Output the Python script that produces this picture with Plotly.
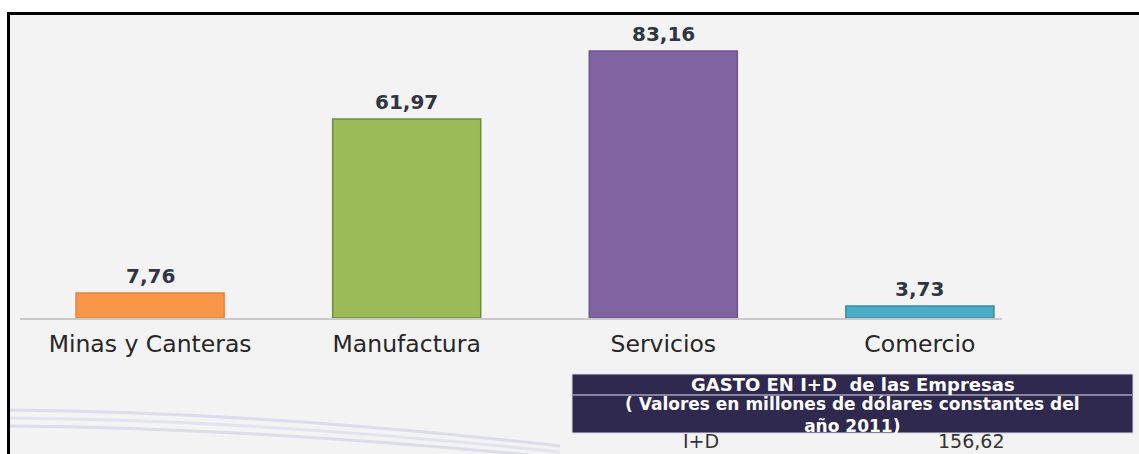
import plotly.graph_objects as go

# ---- data ----
categories = ["Minas y Canteras", "Manufactura", "Servicios", "Comercio"]
values = [7.76, 61.97, 83.16, 3.73]
bar_colors = ["#f79646", "#9bbb59", "#8064a2", "#4bacc6"]
edge_colors = ["#e5813a", "#71893f", "#6c5490", "#3a8aa0"]

table_title = "GASTO EN I+D  de las Empresas"
table_subtitle = ["( Valores en millones de dólares constantes del", "año 2011)"]
table_rows = ["I+D"]
table_values = [156.62]


def fmt(v):
    return f"{v:.2f}".replace(".", ",")


# ---- layout geometry (pixels) ----
W, H = 1139, 454
L, R, T, B = 20, 1002, 15, 318


def xp(x):
    return (x - L) / (R - L)


def yp(y):
    return (B - y) / (B - T)


fig = go.Figure()
fig.add_trace(go.Bar(
    x=categories,
    y=values,
    marker=dict(color=bar_colors, line=dict(color=edge_colors, width=1.5)),
    hoverinfo="skip",
))

annotations = []
for c, v in zip(categories, values):
    annotations.append(dict(
        x=c, y=v, xref="x", yref="y", text=fmt(v), showarrow=False,
        yanchor="bottom", yshift=3,
        font=dict(family="DejaVu Sans", size=20, color="#2f3541", weight="bold"),
    ))

shapes = []
# framed background
shapes.append(dict(type="rect", xref="paper", yref="paper", layer="below",
                   x0=xp(7), x1=xp(W), y0=yp(12), y1=yp(H),
                   fillcolor="#f3f3f3", line=dict(width=0)))
# decorative swooshes bottom-left
for y0, y1, col in [(410, 446, "rgba(214,214,234,0.8)"),
                    (418, 452, "rgba(222,222,238,0.8)"),
                    (426, 458, "rgba(210,210,230,0.7)")]:
    path = (f"M {xp(10)},{yp(y0)} Q {xp(260)},{yp(y0 + 2)} "
            f"{xp(560)},{yp(y1)}")
    shapes.append(dict(type="path", xref="paper", yref="paper", layer="below",
                       path=path, line=dict(color=col, width=3)))
# black frame
shapes.append(dict(type="line", xref="paper", yref="paper",
                   x0=xp(7), x1=xp(W), y0=yp(13.5), y1=yp(13.5),
                   line=dict(color="black", width=3)))
shapes.append(dict(type="line", xref="paper", yref="paper",
                   x0=xp(8.5), x1=xp(8.5), y0=yp(12), y1=yp(H),
                   line=dict(color="black", width=3)))
# table header
TX0, TX1, TY0, TSEP, TY1 = 572, 1133, 374, 395, 433
TC = (TX0 + TX1) / 2
shapes.append(dict(type="rect", xref="paper", yref="paper",
                   x0=xp(TX0), x1=xp(TX1), y0=yp(TY0), y1=yp(TY1),
                   fillcolor="#2f284f", line=dict(color="#d8d8e8", width=1)))
shapes.append(dict(type="line", xref="paper", yref="paper",
                   x0=xp(TX0 + 1), x1=xp(TX1 - 1), y0=yp(TSEP), y1=yp(TSEP),
                   line=dict(color="#e0e0f0", width=1)))

annotations.append(dict(x=xp(TC), y=yp(385), xref="paper", yref="paper",
                        text=table_title, showarrow=False,
                        font=dict(family="DejaVu Sans", size=18, color="white",
                                  weight="bold"),
                        xanchor="center", yanchor="middle"))
annotations.append(dict(x=xp(TC), y=yp(414.5), xref="paper", yref="paper",
                        text="<br>".join(table_subtitle), showarrow=False,
                        font=dict(family="DejaVu Sans", size=17, color="white",
                                  weight="bold"),
                        xanchor="center", yanchor="middle"))
row_font = dict(family="DejaVu Sans", size=19, color="#333333")
for k, (lab, val) in enumerate(zip(table_rows, table_values)):
    yy = H - 24 * k
    annotations.append(dict(x=xp(701), y=yp(yy), xref="paper", yref="paper",
                            text=lab, showarrow=False, font=row_font,
                            xanchor="center", yanchor="bottom"))
    annotations.append(dict(x=xp(971), y=yp(yy), xref="paper", yref="paper",
                            text=fmt(val), showarrow=False, font=row_font,
                            xanchor="center", yanchor="bottom"))

fig.update_layout(
    width=W, height=H, autosize=False,
    margin=dict(l=L, r=W - R, t=T, b=H - B, pad=0),
    paper_bgcolor="white",
    plot_bgcolor="rgba(0,0,0,0)",
    bargap=0.423,
    showlegend=False,
    shapes=shapes,
    annotations=annotations,
    xaxis=dict(
        range=[-0.507, 3.32],
        showgrid=False, zeroline=False,
        showline=True, linecolor="#c9c9c9", linewidth=2,
        ticks="", ticklabelstandoff=4,
        tickfont=dict(family="DejaVu Sans", size=23.5, color="#262626"),
    ),
    yaxis=dict(range=[0, 94.4], visible=False),
)

fig.write_html("out.html",
               config={"displayModeBar": False},
               post_script="document.body.style.margin='0';"
                           "document.body.style.padding='0';")
